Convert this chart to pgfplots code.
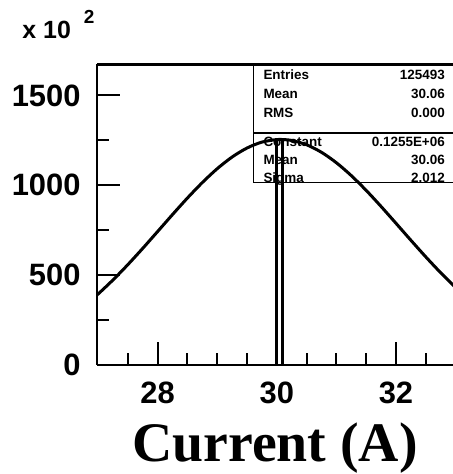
\documentclass[border=0pt]{standalone}
\usepackage{pgfplots}
\pgfplotsset{compat=1.18}
\usepackage{fontspec}
\setmainfont{Liberation Sans}
\newfontfamily\titlefont{Liberation Serif}
\begin{document}
\begin{tikzpicture}[x=1bp,y=1bp]
% statistics box
\draw[line width=1bp] (358,182) -- (156.1,182) -- (156.1,300.5);
\draw[line width=1.5bp] (156.1,232) -- (358,232);
\begin{scope}[every node/.style={inner sep=0pt, font=\fontsize{13.5}{13.5}\selectfont\bfseries}]
\node[anchor=base west] at (166.1,285.2) {Entries};
\node[anchor=base east] at (347.8,285.2) {125493};
\node[anchor=base west] at (166.1,266.2) {Mean};
\node[anchor=base east] at (347.8,266.2) {30.06};
\node[anchor=base west] at (166.1,247.2) {RMS};
\node[anchor=base east] at (347.8,247.2) {0.000};
\node[anchor=base west] at (166.1,218.2) {Constant};
\node[anchor=base east] at (347.8,218.2) {0.1255E+06};
\node[anchor=base west] at (166.1,200.2) {Mean};
\node[anchor=base east] at (347.8,200.2) {30.06};
\node[anchor=base west] at (166.1,182.9) {Sigma};
\node[anchor=base east] at (347.8,182.9) {2.012};
\end{scope}
\begin{axis}[
  at={(0,0)}, anchor=south west,
  scale only axis, width=355.8bp, height=300.5bp,
  xmin=26.985, xmax=32.957, ymin=0, ymax=1672,
  separate axis lines,
  axis x line*=box, axis y line*=left,
  axis line style={line width=2.3bp, black},
  xtick={28,30,32}, minor xtick={27.5,28.5,29,29.5,30.5,31,31.5,32.5},
  ytick={0,500,1000,1500}, minor ytick={250,750,1250},
  xtick pos=lower, ytick pos=left,
  tick align=inside,
  major tick length=23bp, minor tick length=11.5bp,
  tick style={black, line width=2bp},
  /pgf/number format/assume math mode=true,
  /pgf/number format/1000 sep={},
  xticklabel style={font=\fontsize{31}{31}\selectfont\bfseries, inner sep=0pt, anchor=north, yshift=-17bp},
  yticklabel style={font=\fontsize{31}{31}\selectfont\bfseries, inner sep=0pt, anchor=east, xshift=-16.5bp},
]
\addplot[black, line width=3bp, smooth, no markers] coordinates {
(26.9,365.6) (27.0,394.8) (27.25,473.2) (27.5,558.6) (27.75,649.2)
(28.0,743.0) (28.25,837.3) (28.5,929.2) (28.75,1015.3) (29.0,1092.4)
(29.25,1157.3) (29.5,1207.3) (29.75,1240.2) (30.0,1254.4) (30.06,1255.0)
(30.25,1249.4) (30.5,1225.3) (30.75,1183.3) (31.0,1125.2) (31.25,1053.6)
(31.5,971.4) (31.75,881.9) (32.0,788.4) (32.25,694.0) (32.5,601.6)
(32.75,513.4) (33.0,431.5)
};
\addplot[black, line width=2.8bp, no markers, line join=miter] coordinates {
(30.0,0) (30.0,1254.93) (30.1,1254.93) (30.1,0)
};
\end{axis}
\node[anchor=base west, inner sep=0pt, font=\fontsize{25}{25}\selectfont\bfseries] at (-75,326.7) {x\hspace{7bp}10};
\node[anchor=base west, inner sep=0pt, font=\fontsize{19}{19}\selectfont\bfseries] at (-13.5,341.7) {2};
\node[anchor=base, inner sep=0pt, font=\titlefont\fontsize{56}{56}\selectfont\bfseries] at (177.9,-96) {Current (A)};
\pgfresetboundingbox
\useasboundingbox (-97.2,-109) rectangle (355.8,365);
\end{tikzpicture}
\end{document}
